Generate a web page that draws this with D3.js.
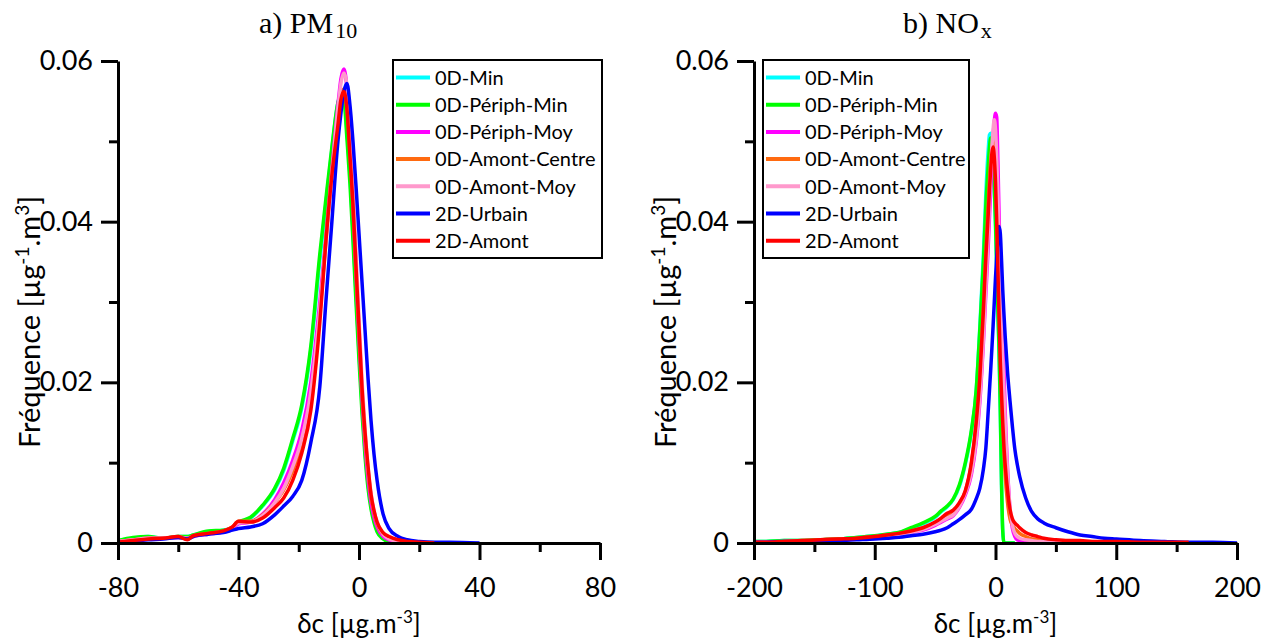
<!DOCTYPE html>
<html><head><meta charset="utf-8">
<script src="https://cdn.jsdelivr.net/npm/d3@7"></script>
<style>body{margin:0;background:#fff}svg{display:block}</style>
</head><body>
<svg id="c" width="1268" height="643"></svg>
<script>
// ---------- DATA ----------
const seriesNames = ["0D-Min","0D-Périph-Min","0D-Périph-Moy","0D-Amont-Centre","0D-Amont-Moy","2D-Urbain","2D-Amont"];
const seriesColors = ["#00ffff","#00ff00","#ff00ff","#ff6a10","#ff99cc","#0000ff","#ff0000"];

const yTicks = [0, 0.02, 0.04, 0.06];
const yMinor = [0.01, 0.03, 0.05];

// a) PM10
const pmTicks = [-80, -40, 0, 40, 80];
const pmMinor = [-60, -20, 20, 60];
const pmX = [-80,-75,-70,-65,-60,-57,-55,-50,-45,-42,-40,-36,-32,-28,-25,-22,-19,-16,-13,-11,-9,-7,-6,-5,-4,-3,-2,-1,0,1,2,3,4,5,6,8,10,13,16,20,25,30,40];
const pmMin = [0.0003,0.0006,0.0008,0.0006,0.0008, 0.0008,0.0010,0.0014,0.0016,0.0019, 0.0025,0.0031,0.0046,0.0066,0.0090, 0.0127,0.0168,0.0240,0.0352,0.0422, 0.0490,0.0548,0.0560,0.0556,0.0512, 0.0458,0.0388,0.0312,0.0238,0.0172, 0.0115,0.0074,0.0046,0.0028,0.0016, 0.0006,0.0002,0.0000,null,null, null,null,null];
const pmPeriphMin = [0.0003,0.0007,0.0008,0.0006,0.0008, 0.0008,0.0010,0.0015,0.0016,0.0019, 0.0026,0.0032,0.0047,0.0068,0.0093, 0.0130,0.0172,0.0245,0.0360,0.0428, 0.0493,0.0548,0.0558,0.0552,0.0503, 0.0447,0.0376,0.0300,0.0228,0.0162, 0.0108,0.0068,0.0042,0.0025,0.0014, 0.0005,0.0001,0.0000,null,null, null,null,null];
const pmPeriphMoy = [0.0002,0.0004,0.0006,0.0006,0.0007, 0.0006,0.0008,0.0011,0.0014,0.0018, 0.0024,0.0026,0.0036,0.0054,0.0075, 0.0103,0.0140,0.0200,0.0300,0.0380, 0.0465,0.0545,0.0578,0.0590,0.0565, 0.0500,0.0420,0.0335,0.0255,0.0180, 0.0122,0.0080,0.0050,0.0032,0.0020, 0.0008,0.0004,0.0001,0.0000,null, null,null,null];
const pmAmontCentre = [0.0002,0.0004,0.0006,0.0006,0.0008, 0.0006,0.0009,0.0012,0.0015,0.0020, 0.0027,0.0027,0.0035,0.0050,0.0066, 0.0090,0.0125,0.0182,0.0285,0.0378, 0.0462,0.0528,0.0558,0.0565,0.0540, 0.0485,0.0420,0.0340,0.0262,0.0188, 0.0132,0.0090,0.0058,0.0038,0.0024, 0.0011,0.0006,0.0003,0.0001,0.0000, null,null,null];
const pmAmontMoy = [0.0002,0.0004,0.0006,0.0006,0.0007, 0.0006,0.0008,0.0011,0.0014,0.0019, 0.0025,0.0026,0.0034,0.0050,0.0068, 0.0095,0.0130,0.0188,0.0290,0.0372, 0.0460,0.0540,0.0572,0.0585,0.0570, 0.0515,0.0445,0.0362,0.0280,0.0203, 0.0142,0.0094,0.0062,0.0040,0.0026, 0.0011,0.0005,0.0002,0.0001,0.0000, null,null,null];
const pmUrbain = [0.0001,0.0002,0.0004,0.0005,0.0007, 0.0005,0.0008,0.0011,0.0013,0.0016, 0.0018,0.0020,0.0024,0.0035,0.0046, 0.0058,0.0078,0.0125,0.0195,0.0300, 0.0400,0.0500,0.0535,0.0562,0.0572, 0.0545,0.0500,0.0445,0.0385,0.0325, 0.0265,0.0205,0.0152,0.0110,0.0078, 0.0036,0.0018,0.0008,0.0004,0.0002, 0.0001,0.0001,0.0000];
const pmAmont = [0.0001,0.0003,0.0005,0.0006,0.0008, 0.0004,0.0009,0.0012,0.0015,0.0020, 0.0027,0.0026,0.0031,0.0044,0.0056, 0.0078,0.0112,0.0165,0.0275,0.0375, 0.0458,0.0520,0.0552,0.0562,0.0540, 0.0482,0.0422,0.0345,0.0269,0.0193, 0.0138,0.0095,0.0060,0.0040,0.0026, 0.0013,0.0008,0.0004,0.0002,0.0001, 0.0000,null,null];

// b) NOx
const noxTicks = [-200, -100, 0, 100, 200];
const noxMinor = [-150, -50, 50, 150];
const noxX = [-200,-190,-175,-160,-145, -130,-115,-100,-90,-80, -70,-60,-50,-45,-40, -35,-30,-25,-20,-16, -13,-10,-8,-6,-5, -4,-3,-2,-1,
  0,1,2,3,4, 5,6,7,8,10, 12,14,16,18,20, 25,30,35,40,50, 60,70,80,90,100, 120,140,160,180,200];
const noxMin = [0.0002,0.0002,0.0003,0.0003,0.0004, 0.0005,0.0007,0.0009,0.0011,0.0013, 0.0018,0.0024,0.0032,0.0039,0.0045, 0.0054,0.0070,0.0098,0.0138,0.0190, 0.0268,0.0360,0.0435,0.0490,0.0508, 0.0510,0.0500,0.0478,0.0440,
  0.0395,0.0340,0.0285,0.0232,0.0160, 0.0072,0.0014,0.0001,0.0000,0.0000, 0.0000,0.0000,0.0000,null,null, null,null,null,null,null, null,null,null,null,null, null,null,null,null,null];
const noxPeriphMin = [0.0002,0.0002,0.0003,0.0003,0.0004, 0.0005,0.0007,0.0009,0.0011,0.0013, 0.0019,0.0025,0.0033,0.0040,0.0046, 0.0055,0.0072,0.0100,0.0140,0.0190, 0.0265,0.0350,0.0420,0.0470,0.0492, 0.0504,0.0500,0.0480,0.0445,
  0.0400,0.0345,0.0290,0.0240,0.0165, 0.0075,0.0015,0.0001,0.0000,0.0000, 0.0000,0.0000,0.0000,null,null, null,null,null,null,null, null,null,null,null,null, null,null,null,null,null];
const noxPeriphMoy = [0.0001,0.0001,0.0002,0.0002,0.0003, 0.0004,0.0005,0.0006,0.0008,0.0010, 0.0013,0.0016,0.0022,0.0026,0.0030, 0.0034,0.0044,0.0060,0.0085,0.0125, 0.0175,0.0250,0.0310,0.0370,0.0405, 0.0440,0.0475,0.0505,0.0525,
  0.0535,0.0530,0.0475,0.0405,0.0345, 0.0295,0.0255,0.0215,0.0165,0.0092, 0.0042,0.0018,0.0008,0.0004,0.0003, 0.0002,0.0001,0.0001,0.0001,0.0001, 0.0000,null,null,null,null, null,null,null,null,null];
const noxAmontCentre = [0.0001,0.0001,0.0002,0.0003,0.0004, 0.0005,0.0006,0.0008,0.0010,0.0012, 0.0015,0.0019,0.0025,0.0030,0.0035, 0.0040,0.0049,0.0064,0.0098,0.0148, 0.0205,0.0292,0.0360,0.0420,0.0450, 0.0475,0.0492,0.0500,0.0490,
  0.0460,0.0410,0.0350,0.0290,0.0235, 0.0190,0.0150,0.0115,0.0085,0.0050, 0.0030,0.0022,0.0018,0.0015,0.0012, 0.0008,0.0005,0.0004,0.0003,0.0002, 0.0001,null,null,null,null, null,null,null,null,null];
const noxAmontMoy = [0.0001,0.0001,0.0002,0.0002,0.0003, 0.0004,0.0005,0.0006,0.0008,0.0010, 0.0013,0.0017,0.0023,0.0027,0.0031, 0.0035,0.0045,0.0062,0.0088,0.0130, 0.0180,0.0255,0.0320,0.0385,0.0425, 0.0460,0.0492,0.0515,0.0527,
  0.0515,0.0480,0.0430,0.0372,0.0318, 0.0268,0.0228,0.0188,0.0148,0.0086, 0.0045,0.0022,0.0012,0.0008,0.0006, 0.0004,0.0003,0.0002,0.0002,0.0001, 0.0001,null,null,null,null, null,null,null,null,null];
const noxUrbain = [0.0001,0.0001,0.0002,0.0002,0.0003, 0.0003,0.0004,0.0005,0.0006,0.0007, 0.0009,0.0011,0.0014,0.0016,0.0019, 0.0024,0.0029,0.0035,0.0042,0.0055, 0.0068,0.0092,0.0118,0.0165,0.0190, 0.0215,0.0242,0.0270,0.0300,
  0.0330,0.0356,0.0380,0.0394,0.0385, 0.0352,0.0315,0.0285,0.0258,0.0212, 0.0177,0.0145,0.0117,0.0098,0.0083, 0.0056,0.0039,0.0030,0.0025,0.0019, 0.0014,0.0010,0.0008,0.0006,0.0005, 0.0003,0.0002,0.0001,0.0001,0.0000];
const noxAmont = [0.0001,0.0001,0.0002,0.0003,0.0004, 0.0005,0.0006,0.0008,0.0010,0.0012, 0.0015,0.0019,0.0026,0.0031,0.0037, 0.0041,0.0050,0.0065,0.0100,0.0150, 0.0205,0.0290,0.0355,0.0410,0.0440, 0.0465,0.0485,0.0493,0.0480,
  0.0450,0.0400,0.0340,0.0280,0.0225, 0.0185,0.0150,0.0120,0.0098,0.0065, 0.0042,0.0030,0.0025,0.0022,0.0019, 0.0013,0.0010,0.0008,0.0006,0.0004, 0.0003,0.0003,0.0002,0.0002,0.0002, 0.0001,0.0001,0.0001,null,null];

// ---------- DRAW ----------
const svg = d3.select("#c");
const FONT = "Lato, 'Open Sans', sans-serif";
const SERIF = "'Liberation Serif', 'DejaVu Serif', serif";
const yTop = 61, yBot = 543;

const panels = [
  {title: "a) PM", sub: "10", titleX: 259, x0: 118, x1: 600, domain: [-80, 80], major: pmTicks, minor: pmMinor,
   xs: pmX, series: [pmMin, pmPeriphMin, pmPeriphMoy, pmAmontCentre, pmAmontMoy, pmUrbain, pmAmont], legendX: 393, legendW: 209},
  {title: "b) NO", sub: "x", titleX: 903, x0: 754, x1: 1237, domain: [-200, 200], major: noxTicks, minor: noxMinor,
   xs: noxX, series: [noxMin, noxPeriphMin, noxPeriphMoy, noxAmontCentre, noxAmontMoy, noxUrbain, noxAmont], legendX: 763, legendW: 206}
];

function styleAxis(g) {
  g.select(".domain").attr("stroke", "#000").attr("stroke-width", 3);
  g.selectAll(".tick line").attr("stroke", "#000").attr("stroke-width", 3);
  g.selectAll(".tick text").attr("fill", "#000").style("font-family", FONT).style("font-size", "27px");
}

panels.forEach(p => {
  const x = d3.scaleLinear().domain(p.domain).range([p.x0, p.x1]);
  const y = d3.scaleLinear().domain([0, 0.06]).range([yBot, yTop]);
  const g = svg.append("g");

  // curves
  const line = d3.line()
    .defined(d => d[1] != null)
    .x(d => x(d[0])).y(d => y(d[1]))
    .curve(d3.curveMonotoneX);
  p.series.forEach((vals, i) => {
    const pts = p.xs.map((xv, k) => [xv, vals[k]]).filter(d => d[1] != null);
    g.append("path").datum(pts)
      .attr("d", line)
      .attr("fill", "none")
      .attr("stroke", seriesColors[i])
      .attr("stroke-width", 3.5)
      .attr("stroke-linejoin", "round");
  });

  // x axis minor + major
  const gxm = g.append("g").attr("transform", `translate(0,${yBot})`)
    .call(d3.axisBottom(x).tickValues(p.minor).tickSize(9).tickSizeOuter(0).tickFormat(""));
  gxm.select(".domain").remove();
  styleAxis(gxm);
  const gx = g.append("g").attr("transform", `translate(0,${yBot})`)
    .call(d3.axisBottom(x).tickValues(p.major).tickSize(17).tickSizeOuter(0).tickPadding(18).tickFormat(d3.format("d")));
  styleAxis(gx);
  gx.selectAll(".tick text").text(d => String(d).replace("\u2212", "-"));

  // y axis minor + major
  const gym = g.append("g").attr("transform", `translate(${p.x0},0)`)
    .call(d3.axisLeft(y).tickValues(yMinor).tickSize(9).tickSizeOuter(0).tickFormat(""));
  gym.select(".domain").remove();
  styleAxis(gym);
  const gy = g.append("g").attr("transform", `translate(${p.x0},0)`)
    .call(d3.axisLeft(y).tickValues(yTicks).tickSize(17).tickSizeOuter(0).tickPadding(8)
      .tickFormat(d => d === 0 ? "0" : d3.format(".2f")(d)));
  styleAxis(gy);

  // x title
  const xt = g.append("text")
    .attr("x", (p.x0 + p.x1) / 2).attr("y", 633)
    .attr("text-anchor", "middle")
    .style("font-family", FONT).style("font-size", "26px");
  xt.append("tspan").text("\u03B4c [µg.m");
  xt.append("tspan").attr("dy", -10).style("font-size", "17px").text("-3");
  xt.append("tspan").attr("dy", 10).text("]");

  // y title
  const yt = g.append("text")
    .attr("transform", `translate(${p.x0 - 78},${(yTop + yBot) / 2 + 20}) rotate(-90)`)
    .attr("text-anchor", "middle")
    .style("font-family", FONT).style("font-size", "29px");
  yt.append("tspan").text("Fréquence [µg");
  yt.append("tspan").attr("dy", -11).style("font-size", "19px").text("-1");
  yt.append("tspan").attr("dy", 11).text(".m");
  yt.append("tspan").attr("dy", -11).style("font-size", "19px").text("3");
  yt.append("tspan").attr("dy", 11).text("]");

  // title
  const tt = g.append("text").attr("x", p.titleX).attr("y", 33)
    .style("font-family", SERIF).style("font-size", "30px");
  tt.append("tspan").text(p.title);
  tt.append("tspan").attr("dy", 5).attr("dx", 2).style("font-size", "22px").text(p.sub);

  // legend
  const lg = g.append("g").attr("transform", `translate(${p.legendX},60)`);
  lg.append("rect").attr("width", p.legendW).attr("height", 198)
    .attr("fill", "#fff").attr("stroke", "#000").attr("stroke-width", 2);
  seriesNames.forEach((name, i) => {
    const yy = 17.5 + 27.2 * i;
    lg.append("line").attr("x1", 3).attr("x2", 37).attr("y1", yy).attr("y2", yy)
      .attr("stroke", seriesColors[i]).attr("stroke-width", 4);
    lg.append("text").attr("x", 42).attr("y", yy).attr("dy", "0.36em")
      .style("font-family", FONT).style("font-size", "20px").text(name);
  });
});
</script>
</body></html>
